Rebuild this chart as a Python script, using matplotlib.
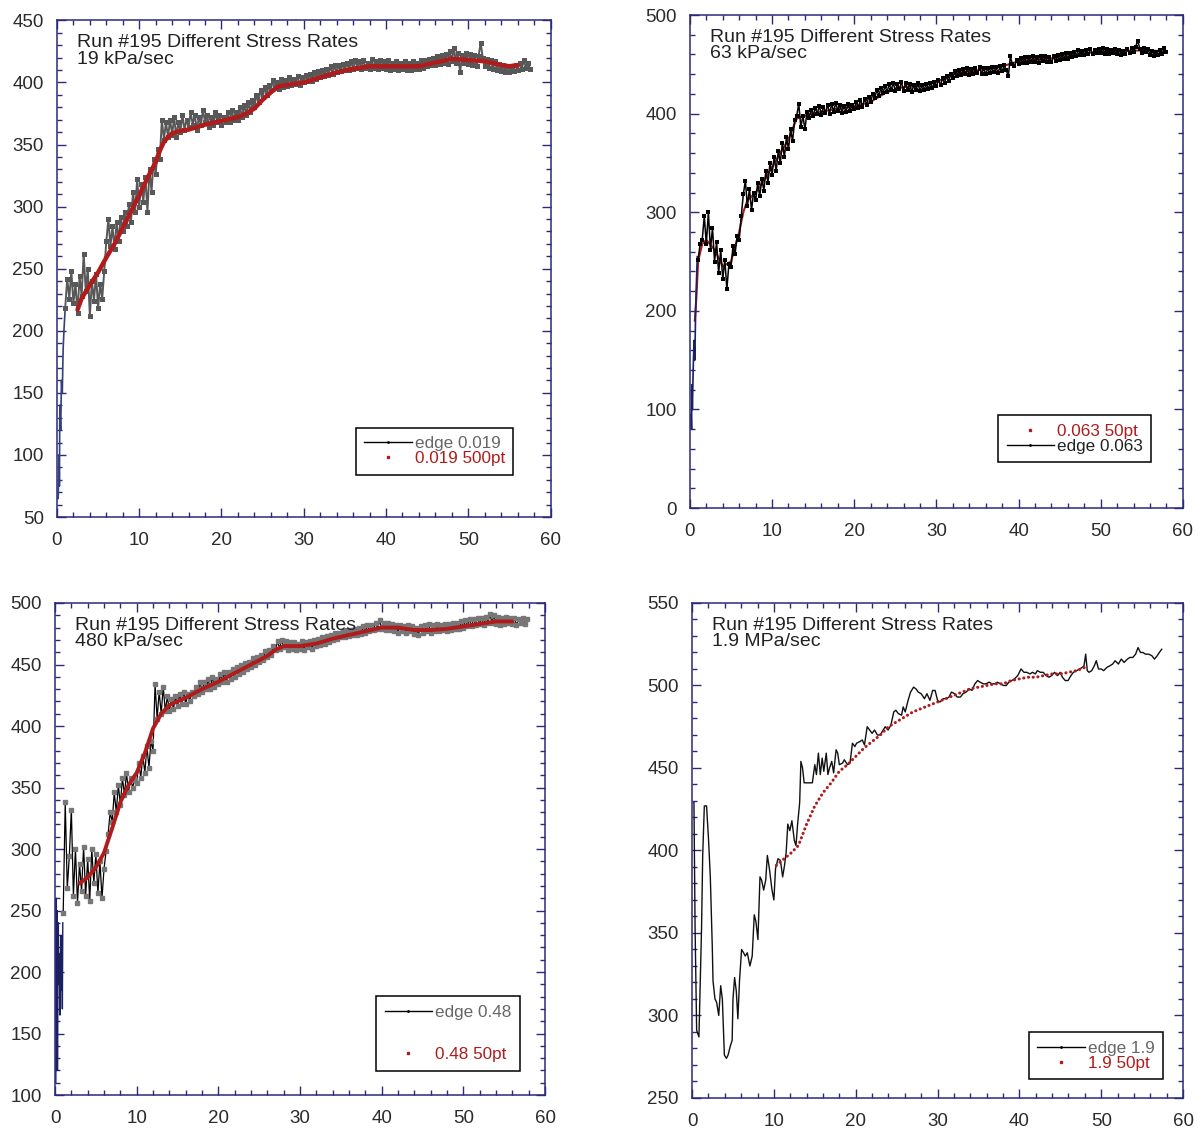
import numpy as np
import matplotlib.pyplot as plt
from matplotlib.lines import Line2D
from matplotlib.ticker import MultipleLocator

plt.rcParams['font.family'] = ['Liberation Sans', 'DejaVu Sans']

NAVY = '#2a2a7c'
RED = '#b01c1c'
TITLE = 'Run #195 Different Stress Rates'

# ---- 19 kPa/sec ----
head1_t = [0.15, 0.25, 0.3, 0.35, 0.45, 0.55, 0.65, 0.75, 0.85, 1.0]
head1_y = [65, 100, 75, 140, 120, 160, 150, 185, 200, 218]
edge1_y = [
    218, 242, 226, 248, 222, 238, 214, 244, 228, 262, 232, 250, 212, 240, 224, 246, 218, 238, 226, 248,
    272, 290, 268, 284, 266, 288, 272, 292, 280, 296, 284, 302, 288, 312, 296, 322, 300, 318, 304, 324,
    296, 330, 312, 338, 326, 346, 338, 370, 354, 368, 356, 370, 358, 372, 356, 368, 360, 374, 362, 370,
    364, 376, 366, 374, 362, 372, 366, 378, 368, 374, 364, 372, 366, 376, 368, 374, 366, 372, 368, 376,
    368, 378, 370, 376, 370, 380, 372, 382, 374, 384, 376, 386, 380, 390, 384, 394, 388, 396, 390, 398,
    394, 402, 396, 400, 395, 403, 396, 402, 397, 404, 398, 403, 399, 405, 398, 404, 400, 406, 401, 407,
    401, 408, 403, 409, 404, 410, 405, 411, 406, 413, 407, 414, 408, 414, 409, 415, 410, 416, 410, 417,
    411, 418, 412, 417, 411, 418, 412, 416, 411, 419, 412, 417, 411, 418, 412, 417, 411, 418, 410, 416,
    411, 417, 410, 416, 411, 417, 410, 416, 410, 417, 411, 416, 411, 418, 412, 418, 413, 419, 414, 420,
    414, 421, 415, 422, 416, 423, 415, 425, 417, 428, 416, 424, 408, 422, 416, 424, 415, 423, 414, 422,
    413, 421, 432, 420, 413, 419, 412, 418, 411, 417, 410, 415, 409, 414, 408, 413, 408, 412, 409, 414,
    410, 416, 411, 418, 412, 416, 411,
]
edge1_t = np.linspace(1.0, 57.5, len(edge1_y))
fit1_t = [2.5, 3, 4, 5, 6, 7, 8, 9, 10, 11, 12, 12.5, 13, 13.5, 14, 15, 16, 18, 20, 22,
          23, 24, 25, 26, 27, 28, 30, 32, 34, 36, 38, 40, 42, 44, 46, 48, 50, 52, 54, 55, 56]
fit1_y = [217, 226, 237, 247, 259, 270, 283, 296, 309, 323, 336, 345, 352, 356, 359, 361, 362, 366, 369, 372,
          375, 379, 386, 392, 397, 398, 400, 404, 408, 411, 413, 413, 413, 413, 416, 419, 418, 417, 414, 413, 414]

# ---- 63 kPa/sec ----
head2_t = [0.15, 0.2, 0.25, 0.3, 0.4, 0.5, 0.6, 0.7, 0.8, 0.9]
head2_y = [95, 80, 125, 100, 140, 170, 150, 200, 230, 255]
edge2_y = [
    252, 268, 272, 296, 268, 300, 262, 284, 250, 270, 238, 262, 232, 252, 222, 248, 244, 266, 258, 276,
    272, 296, 318, 332, 306, 324, 302, 320, 312, 330, 316, 334, 322, 342, 330, 350, 338, 356, 342, 362,
    350, 370, 356, 376, 364, 384, 372, 394, 398, 410, 386, 398, 384, 402, 396, 404, 398, 406, 400, 408,
    399, 407, 401, 409, 400, 410, 402, 411, 403, 409, 401, 408, 402, 410, 403, 409, 405, 412, 406, 414,
    407, 415, 409, 417, 412, 420, 416, 424, 418, 426, 421, 428, 422, 430, 424, 431, 423, 430, 425, 432,
    423, 431, 424, 430, 422, 429, 424, 431, 423, 429, 424, 430, 425, 431, 426, 432, 428, 434, 429, 436,
    431, 438, 433, 440, 436, 443, 438, 444, 439, 445, 440, 446, 439, 445, 440, 446, 441, 447, 440, 446,
    440, 446, 441, 447, 442, 447, 441, 448, 443, 449, 444, 438, 458, 450, 448, 454, 450, 456, 451, 457,
    451, 457, 452, 458, 452, 457, 451, 458, 453, 458, 452, 457, 452, 458, 453, 459, 454, 460, 455, 461,
    455, 461, 457, 463, 458, 465, 459, 464, 459, 465, 460, 466, 460, 465, 461, 466, 461, 467, 460, 466,
    460, 465, 461, 466, 460, 465, 459, 464, 460, 466, 461, 467, 462, 468, 474, 466, 461, 467, 462, 466,
    459, 464, 458, 463, 459, 465, 460, 467, 462,
]
edge2_t = np.linspace(1.0, 58.0, len(edge2_y))
fit2_t = [0.6, 0.8, 1.0, 1.5, 2, 3, 4, 5, 6, 6.5, 7, 8, 9, 10, 11, 12, 13, 14, 16, 18,
          20, 22, 24, 26, 28, 30, 32, 34, 36, 38, 40, 42, 44, 46, 48, 50, 52, 54, 56, 58]
fit2_y = [190, 215, 250, 268, 272, 262, 245, 250, 280, 300, 312, 320, 332, 346, 360, 374, 395, 398, 402, 405,
          407, 412, 422, 427, 428, 432, 440, 443, 445, 448, 453, 455, 456, 458, 461, 463, 463, 464, 464, 463]

# ---- 480 kPa/sec ----
head3_t = [0.1, 0.15, 0.2, 0.25, 0.3, 0.4, 0.5, 0.55, 0.6, 0.65, 0.7, 0.75, 0.8, 0.85, 0.9, 0.95]
head3_y = [110, 260, 150, 250, 120, 240, 190, 215, 165, 205, 185, 230, 195, 210, 170, 240]
edge3_y = [
    248, 338, 268, 294, 332, 262, 300, 256, 288, 266, 302, 262, 292, 258, 300, 272, 296, 264, 290, 260,
    284, 298, 312, 330, 322, 346, 330, 352, 336, 358, 344, 362, 346, 358, 350, 356, 354, 370, 358, 376,
    362, 384, 366, 388, 380, 434, 406, 428, 410, 432, 412, 424, 412, 422, 414, 424, 416, 426, 418, 428,
    418, 426, 420, 428, 424, 432, 426, 436, 428, 436, 430, 438, 430, 440, 432, 438, 434, 442, 436, 444,
    436, 444, 438, 446, 440, 448, 442, 450, 444, 451, 446, 452, 448, 455, 450, 456, 452, 458, 454, 461,
    456, 462, 458, 465, 462, 469, 463, 470, 464, 469, 462, 468, 463, 468, 462, 467, 463, 469, 462, 468,
    464, 469, 463, 470, 465, 471, 466, 472, 467, 473, 468, 474, 470, 476, 471, 476, 472, 477, 472, 478,
    473, 478, 474, 479, 474, 480, 475, 481, 476, 482, 477, 482, 478, 484, 479, 486, 479, 484, 478, 484,
    478, 483, 477, 482, 476, 482, 477, 481, 476, 482, 477, 481, 475, 480, 474, 481, 476, 482, 477, 483,
    476, 482, 477, 483, 477, 482, 478, 483, 477, 483, 478, 484, 479, 484, 479, 485, 480, 486, 481, 487,
    481, 487, 482, 488, 483, 488, 482, 489, 484, 491, 484, 490, 483, 489, 482, 488, 483, 489, 484, 488,
    483, 488, 482, 487, 484, 488, 483, 487,
]
edge3_t = np.linspace(1.0, 57.75, len(edge3_y))
fit3_t = [3, 4, 5, 6, 7, 8, 9, 10, 11, 12, 13, 14, 15, 16, 18, 20, 22, 24, 26, 27,
          28, 30, 32, 34, 36, 38, 40, 42, 44, 46, 48, 50, 52, 54, 56]
fit3_y = [272, 277, 285, 297, 317, 338, 352, 362, 378, 398, 410, 417, 420, 423, 430, 436, 443, 450, 457, 462,
          465, 465, 467, 471, 474, 477, 480, 480, 478, 478, 479, 481, 483, 485, 485]

# ---- 1.9 MPa/sec ----
edge4_t = [0.23, 0.37, 0.56, 0.84, 1.16, 1.3, 1.5, 1.77, 2.0, 2.23, 2.47, 2.56, 2.8, 3.0, 3.26, 3.5, 3.7, 3.95,
           4.2, 4.4, 4.65, 4.9, 5.0, 5.2, 5.4, 5.6, 5.8, 6.05, 6.3, 6.5, 6.75, 7.07, 7.35, 7.6, 7.8, 8.05,
           8.3, 8.5, 8.75, 9.0, 9.2, 9.45, 9.77, 10.0, 10.2, 10.5, 10.8, 11.07, 11.3, 11.5, 11.7, 11.95,
           12.2, 12.5, 12.7, 12.9, 13.15, 13.3, 13.5, 13.7, 13.95, 14.4, 14.7, 15.0, 15.2, 15.44, 15.67,
           15.9, 16.1, 16.4, 16.6, 16.8, 17.07, 17.3, 17.6, 17.8, 18.0, 18.4, 18.6, 19.0, 19.3, 19.6, 19.9,
           20.1, 20.5, 20.8, 21.07, 21.4, 21.7, 22.0, 22.3, 22.65, 23.0, 23.35, 23.6, 23.95, 24.3, 24.65,
           24.9, 25.2, 25.6, 25.8, 26.05, 26.4, 26.7, 27.07, 27.35, 27.65, 28.0, 28.4, 28.7, 29.07, 29.4,
           29.7, 30.0, 30.3, 30.7, 31.07, 31.4, 31.7, 32.1, 32.4, 32.8, 33.1, 33.5, 33.86, 34.2, 34.56,
           34.9, 35.2, 35.6, 35.9, 36.3, 36.65, 37.0, 37.3, 37.7, 38.05, 38.4, 38.7, 39.07, 39.4, 39.8,
           40.0, 40.2, 40.56, 40.9, 41.3, 41.6, 41.95, 42.2, 42.56, 42.9, 43.26, 43.6, 43.95, 44.3, 44.65,
           45.0, 45.26, 45.6, 45.95, 46.3, 46.6, 47.0, 47.35, 47.7, 47.9, 48.1, 48.3, 48.5, 48.84, 49.16,
           49.4, 49.67, 50.0, 50.3, 50.7, 51.07, 51.4, 51.7, 52.1, 52.45, 52.8, 53.2, 53.5, 53.86, 54.2,
           54.5, 54.8, 55.1, 55.4, 55.8, 56.2, 56.5, 56.84, 57.1, 57.4]
edge4_y = [429, 353, 291, 287, 353, 397, 427, 427, 408, 384, 342, 321, 310, 308, 300, 318, 310, 276,
           274, 276, 281, 285, 310, 323, 315, 298, 321, 340, 338, 336, 338, 330, 336, 361, 357, 346,
           384, 382, 376, 382, 397, 389, 376, 370, 389, 395, 394, 384, 391, 399, 416, 412,
           418, 406, 403, 416, 429, 454, 450, 441, 441, 441, 441, 452, 446, 459, 446,
           456, 448, 459, 446, 450, 454, 447, 461, 459, 452, 453, 455, 452, 453, 465, 463,
           465, 466, 467, 464, 475, 473, 471, 473, 470, 470, 473, 475, 473, 476, 484,
           485, 483, 482, 487, 484, 491, 496, 499, 498, 496, 495, 492, 495, 491, 497,
           497, 491, 490, 492, 492, 493, 496, 495, 493, 493, 495, 496, 498, 497, 501,
           503, 502, 501, 501, 502, 501, 501, 502, 501, 500, 500, 502, 503, 504, 506,
           508, 510, 508, 508, 507, 508, 507, 509, 508, 508, 506, 505, 506, 508, 506,
           508, 505, 503, 503, 506, 508, 509, 510, 511, 512, 519, 509, 508, 509, 512,
           515, 510, 510, 509, 511, 512, 513, 515, 513, 516, 514, 516, 517, 517, 519,
           523, 520, 520, 519, 519, 518, 516, 518, 520, 522]
fit4_t = [10.3, 11, 12, 13, 14, 15, 16, 17, 18, 19, 20, 21, 22, 23, 24, 25, 26, 27, 28, 29,
          30, 31, 32, 33, 34, 35, 36, 37, 38, 39, 40, 41, 42, 43, 44, 45, 46, 47, 48]
fit4_y = [391, 394, 398, 403, 416, 427, 435, 441, 448, 452, 457, 462, 466, 470, 475, 478, 481, 484, 486, 488,
          490, 492, 494, 496, 498, 499, 500, 501, 501, 503, 504, 505, 505, 506, 507, 507, 508, 509, 511]

fig = plt.figure(figsize=(12.04, 11.29), dpi=100)


def setup(ax, ylim, ymajor, yminor, subtitle):
    ax.set_xlim(0, 60)
    ax.set_ylim(*ylim)
    ax.xaxis.set_major_locator(MultipleLocator(10))
    ax.xaxis.set_minor_locator(MultipleLocator(2))
    ax.yaxis.set_major_locator(MultipleLocator(ymajor))
    ax.yaxis.set_minor_locator(MultipleLocator(yminor))
    ax.tick_params(which='both', direction='in', top=True, right=True,
                   color=NAVY, labelcolor='#2b2b2b', labelsize=13.5, width=1)
    ax.tick_params(which='major', length=6.5)
    ax.tick_params(which='minor', length=3.5)
    ax.tick_params(axis='x', which='major', pad=10.5)
    ax.tick_params(axis='y', which='major', pad=9.5)
    for s in ax.spines.values():
        s.set_color(NAVY)
        s.set_linewidth(1.1)
    ax.text(0.04, 0.972, TITLE + '\n' + subtitle, transform=ax.transAxes,
            ha='left', va='top', fontsize=14, color='#222222', linespacing=0.95)


def add_legend(ax, handles, labels, colors, anchor, spacing=0.0):
    leg = ax.legend(handles, labels, loc='lower left', bbox_to_anchor=anchor,
                    frameon=True, fancybox=False, edgecolor='black', framealpha=1,
                    fontsize=12.3, handlelength=2.8, handletextpad=0.15,
                    labelspacing=spacing, borderpad=0.5, borderaxespad=0)
    leg.get_frame().set_linewidth(1.1)
    for t, c in zip(leg.get_texts(), colors):
        t.set_color(c)


edge_handle = Line2D([], [], color='black', lw=1, marker='.', ms=2)
dot_handle = Line2D([], [], color=RED, lw=0, marker='s', ms=2)

# 19 kPa/sec
ax1 = fig.add_axes([0.0473, 0.542, 0.410, 0.440])
ax1.plot(head1_t, head1_y, color='#33407a', lw=1.2)
ax1.plot(edge1_t, edge1_y, color='#585858', lw=1.4, marker='s', ms=3.6, mew=0)
ax1.plot(fit1_t, fit1_y, color=RED, lw=3.2, solid_capstyle='round')
setup(ax1, (50, 450), 50, 10, '19 kPa/sec')
add_legend(ax1, [edge_handle, dot_handle], ['edge 0.019', '0.019 500pt'],
           ['#666666', RED], (0.605, 0.085))

# 63 kPa/sec
ax2 = fig.add_axes([0.573, 0.550, 0.4095, 0.4367])
ax2.plot(fit2_t, fit2_y, color=RED, lw=1.5)
ax2.plot(head2_t, head2_y, color='#1a2060', lw=1.2)
ax2.plot(edge2_t, edge2_y, color='black', lw=0, marker='s', ms=3.4, mew=0)
ax2.plot(edge2_t, edge2_y, color='black', lw=1.1)
setup(ax2, (0, 500), 100, 20, '63 kPa/sec')
add_legend(ax2, [dot_handle, edge_handle], ['0.063 50pt', 'edge 0.063'],
           [RED, '#222222'], (0.625, 0.093))

# 480 kPa/sec
ax3 = fig.add_axes([0.0457, 0.0301, 0.407, 0.4358])
ax3.plot(head3_t, head3_y, color='#1a2060', lw=1.0)
ax3.plot(edge3_t, edge3_y, color='black', lw=0.9, marker='s', ms=2.2, mfc='#777777', mec='#777777')
ax3.plot(fit3_t, fit3_y, color=RED, lw=2.8, solid_capstyle='round')
setup(ax3, (100, 500), 50, 10, '480 kPa/sec')
add_legend(ax3, [edge_handle, dot_handle], ['edge 0.48', '0.48 50pt'],
           ['#666666', RED], (0.655, 0.049), spacing=1.6)

# 1.9 MPa/sec
ax4 = fig.add_axes([0.5748, 0.0275, 0.4078, 0.4384])
ax4.plot(edge4_t, edge4_y, color='#111111', lw=1.0)
ax4.plot(fit4_t, fit4_y, color=RED, lw=2.2, ls=(0, (0.05, 1.5)), dash_capstyle='round')
setup(ax4, (250, 550), 50, 10, '1.9 MPa/sec')
add_legend(ax4, [edge_handle, dot_handle], ['edge 1.9', '1.9 50pt'],
           ['#666666', RED], (0.686, 0.038))

fig.savefig('out.png', dpi=100)
